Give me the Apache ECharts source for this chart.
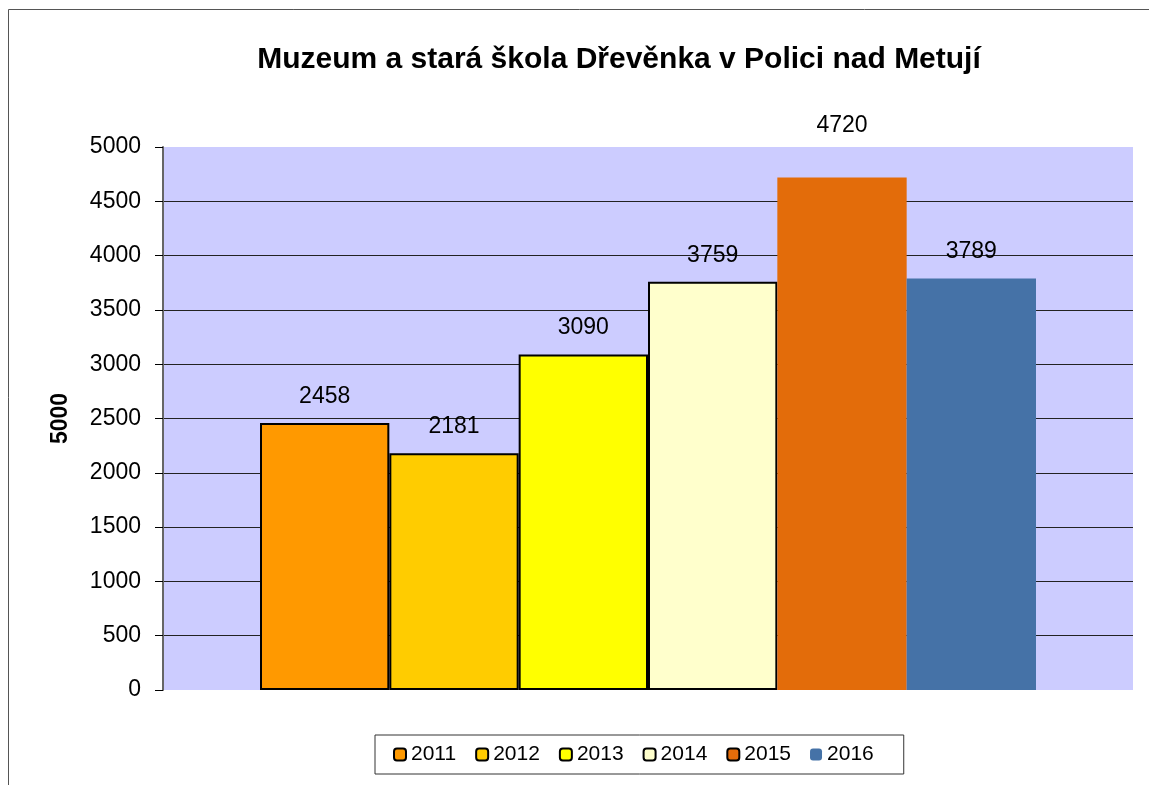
<!DOCTYPE html>
<html>
<head>
<meta charset="utf-8">
<script src="https://cdn.jsdelivr.net/npm/echarts@6/dist/echarts.min.js"></script>
<style>
  html, body { margin: 0; padding: 0; background: #fff; }
  #main { width: 1149px; height: 785px; }
</style>
</head>
<body>
<div id="main"></div>
<script>
// roky a počty návštěvníků
const years = ['2011', '2012', '2013', '2014', '2015', '2016'];
const visitors = [2458, 2181, 3090, 3759, 4720, 3789];
const barColors = ['#FF9900', '#FFCC00', '#FFFF00', '#FFFFCC', '#E36C0A', '#4572A7'];
const hasBorder = [true, true, true, true, false, false];
const legendBorder = [true, true, true, true, true, false];
const category = [''];

const chart = echarts.init(document.getElementById('main'));

const font = 'Liberation Sans, Arial, sans-serif';

var series = years.map(function (y, i) {
  return {
    name: y,
    type: 'bar',
    data: [visitors[i]],
    barGap: 0,
    barCategoryGap: '20%',
    itemStyle: {
      color: barColors[i],
      borderColor: hasBorder[i] ? '#000' : 'transparent',
      borderWidth: hasBorder[i] ? 2 : 0
    },
    label: {
      show: true,
      position: 'top',
      // popisek nejvyssiho sloupce je v originale vytazeny nad graf
      distance: y === '2015' ? 40 : 15,
      color: '#000',
      fontFamily: font,
      fontSize: 23
    }
  };
});

var legendData = years.map(function (y, i) {
  return {
    name: y,
    itemStyle: {
      color: barColors[i],
      borderColor: legendBorder[i] ? '#000' : 'transparent',
      borderWidth: legendBorder[i] ? 2 : 0
    }
  };
});

var option = {
  animation: false,
  backgroundColor: '#fff',
  textStyle: { fontFamily: font },
  title: {
    text: 'Muzeum a stará škola Dřevěnka v Polici nad Metují',
    left: 614,
    textAlign: 'center',
    top: 40,
    textStyle: { fontSize: 30, fontWeight: 'bold', color: '#000', fontFamily: font }
  },
  graphic: [{
    type: 'rect',
    shape: { x: 8.5, y: 9.5, width: 1200, height: 900 },
    style: { fill: 'none', stroke: '#555', lineWidth: 1 },
    silent: true,
    z: -1
  }],
  legend: {
    data: legendData,
    bottom: 11,
    left: 375,
    itemWidth: 12,
    itemHeight: 12,
    itemGap: 19,
    padding: [9, 30, 9, 18],
    borderColor: '#333',
    borderWidth: 1,
    textStyle: { fontSize: 21, color: '#000', fontFamily: font }
  },
  grid: {
    left: 163,
    right: 16,
    top: 147,
    bottom: 95,
    show: true,
    backgroundColor: '#CCCCFF',
    borderWidth: 0
  },
  xAxis: {
    type: 'category',
    data: category,
    axisLine: { show: false },
    axisTick: { show: false },
    axisLabel: { show: false }
  },
  yAxis: {
    type: 'value',
    min: 0,
    max: 5000,
    interval: 500,
    name: '5000',
    nameLocation: 'middle',
    nameGap: 91,
    nameTextStyle: { fontSize: 23, fontWeight: 'bold', color: '#000', fontFamily: font },
    axisLine: { show: true, lineStyle: { color: '#666', width: 2 } },
    axisTick: { show: true, length: 8, lineStyle: { color: '#000' } },
    axisLabel: {
      margin: 22,
      fontSize: 23,
      color: '#000',
      fontFamily: font,
      formatter: function (v) { return String(v); }
    },
    splitLine: {
      show: true,
      showMinLine: false,
      showMaxLine: false,
      lineStyle: { color: '#222', width: 1 }
    }
  },
  series: series
};

chart.setOption(option);
</script>
</body>
</html>
